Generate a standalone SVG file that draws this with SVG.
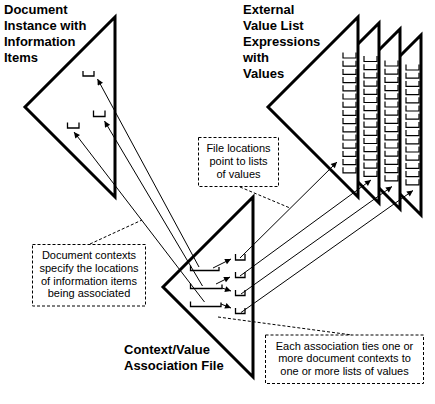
<svg xmlns="http://www.w3.org/2000/svg" width="435" height="404" viewBox="0 0 435 404">
<style>
.tri{fill:#fff;stroke:#000;stroke-width:3;stroke-linejoin:miter}
.brk{fill:none;stroke:#000;stroke-width:1.3}
.cell{fill:none;stroke:#000;stroke-width:1.2}
.con{fill:none;stroke:#000;stroke-width:1}
.call{fill:none;stroke:#000;stroke-width:1;stroke-dasharray:3,2}
.title{font-family:"Liberation Sans",Arial,sans-serif;font-size:13px;font-weight:bold;fill:#000}
.note{font-family:"Liberation Sans",Arial,sans-serif;font-size:11px;fill:#000;text-anchor:middle}
</style>
<defs>
<marker id="ah" viewBox="0 0 10 10" refX="10" refY="5" markerWidth="8" markerHeight="6" orient="auto" markerUnits="userSpaceOnUse"><path d="M0,0 L10,5 L0,10 z" fill="#000"/></marker>
<path id="col" class="cell" d="M0,0v5.5h13v-5.5M0,8.2v5.5h13v-5.5M0,16.4v5.5h13v-5.5M0,24.6v5.5h13v-5.5M0,32.8v5.5h13v-5.5M0,41v5.5h13v-5.5M0,49.2v5.5h13v-5.5M0,57.4v5.5h13v-5.5M0,65.6v5.5h13v-5.5M0,73.8v5.5h13v-5.5M0,82v5.5h13v-5.5M0,90.2v5.5h13v-5.5M0,98.4v5.5h13v-5.5M0,106.6v5.5h13v-5.5M0,114.8v5.5h13v-5.5"/>
</defs>
<rect width="435" height="404" fill="#fff"/>

<g id="document-instance">
<path class="tri" d="M115,17 L25,107 L115,197 Z"/>
<path class="brk" d="M83,71 V76 H94 V71"/>
<path class="brk" d="M93.5,110.5 V116.5 H105 V110.5"/>
<path class="brk" d="M67.5,122.5 V128 H79 V122.5"/>
<text class="title"><tspan x="4" y="14.3">Document</tspan><tspan x="4" y="30">Instance with</tspan><tspan x="4" y="46">Information</tspan><tspan x="4" y="62">Items</tspan></text>
</g>

<g id="external-value-lists">
<g id="value-list-4"><path class="tri" d="M421,35 L331,125 L421,215 Z"/><use href="#col" x="406" y="64.5"/></g>
<g id="value-list-3"><path class="tri" d="M400,29 L310,119 L400,209 Z"/><use href="#col" x="385" y="60.5"/></g>
<g id="value-list-2"><path class="tri" d="M379,23 L289,113 L379,203 Z"/><use href="#col" x="364" y="56"/></g>
<g id="value-list-1"><path class="tri" d="M358,17 L268,107 L358,197 Z"/><use href="#col" x="343" y="52.5"/></g>
<text class="title"><tspan x="243" y="14.3">External</tspan><tspan x="243" y="30">Value List</tspan><tspan x="243" y="46">Expressions</tspan><tspan x="243" y="62">with</tspan><tspan x="243" y="78">Values</tspan></text>
</g>

<g id="association-file">
<path class="tri" d="M253,197 L163,287 L253,377 Z"/>
<path class="brk" d="M190.5,265.5 V270.5 H219 V267"/>
<path class="brk" d="M190.5,283.5 V288.5 H222 V284.5"/>
<path class="brk" d="M190.5,301.5 V306.5 H221 V302.5"/>
<path class="brk" d="M235.5,254 V260 H245 V254"/>
<path class="brk" d="M235.5,272 V277.5 H245 V272"/>
<path class="brk" d="M235.5,290 V295.5 H245 V290"/>
<path class="brk" d="M235.5,308 V313.5 H245 V308"/>
<text class="title"><tspan x="124" y="354.3">Context/Value</tspan><tspan x="124" y="370">Association File</tspan></text>
</g>

<g id="connectors">
<path class="con" marker-end="url(#ah)" d="M199,267 L97.5,79"/>
<path class="con" marker-end="url(#ah)" d="M202.5,286 L104.5,121"/>
<path class="con" marker-end="url(#ah)" d="M204.5,302 L74,132"/>
<path class="con" marker-end="url(#ah)" d="M213,268 L231,259"/>
<path class="con" marker-end="url(#ah)" d="M216,284 L230,277"/>
<path class="con" marker-end="url(#ah)" d="M222,288 L231,291"/>
<path class="con" marker-end="url(#ah)" d="M221,304 L231,308"/>
<path class="con" marker-end="url(#ah)" d="M240,258 L337,162"/>
<path class="con" marker-end="url(#ah)" d="M240,276 L371,180"/>
<path class="con" marker-end="url(#ah)" d="M241,294 L392,186.5"/>
<path class="con" marker-end="url(#ah)" d="M241,312.5 L413,190.5"/>
</g>

<g id="callout-file-locations">
<rect class="call" x="198.5" y="137.5" width="80" height="49"/>
<path class="call" d="M240,187 L290,208"/>
<text class="note"><tspan x="238.5" y="151.5">File locations</tspan><tspan x="238.5" y="164.5">point to lists</tspan><tspan x="238.5" y="177.5">of values</tspan></text>
</g>

<g id="callout-document-contexts">
<rect class="call" x="32.5" y="244.5" width="113" height="61.5"/>
<path class="call" d="M90,244 L142,220"/>
<text class="note"><tspan x="89" y="258.7">Document contexts</tspan><tspan x="89" y="271.5">specify the locations</tspan><tspan x="89" y="284.5">of information items</tspan><tspan x="89" y="297.3">being associated</tspan></text>
</g>

<g id="callout-association">
<rect class="call" x="265.5" y="335" width="158" height="48.5"/>
<path class="call" d="M218,317 L352,335"/>
<text class="note"><tspan x="344.5" y="349.5">Each association ties one or</tspan><tspan x="344.5" y="362.2">more document contexts to</tspan><tspan x="344.5" y="375">one or more lists of values</tspan></text>
</g>
</svg>
